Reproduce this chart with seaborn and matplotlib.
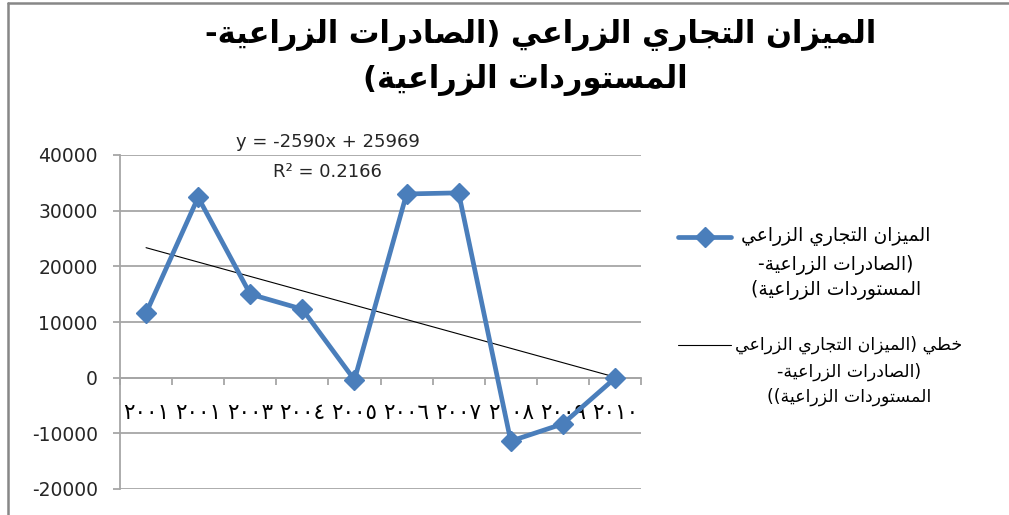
import numpy as np
import pandas as pd
import matplotlib
matplotlib.use("Agg")
import matplotlib.pyplot as plt
from matplotlib.lines import Line2D
import seaborn as sns

# ---------------- data ----------------
year_labels = ["٢٠٠١", "٢٠٠١", "٢٠٠٣", "٢٠٠٤", "٢٠٠٥", "٢٠٠٦", "٢٠٠٧", "٢٠٠٨", "٢٠٠٩", "٢٠١٠"]
balance = [11600, 32400, 15000, 12300, -400, 33000, 33200, -11400, -8300, -100]
title_lines = ["الميزان التجاري الزراعي (الصادرات الزراعية-", "المستوردات الزراعية)"]
series_label = ["الميزان التجاري الزراعي", "(الصادرات الزراعية-", "المستوردات الزراعية)"]
trend_label = ["خطي (الميزان التجاري الزراعي", "(الصادرات الزراعية-", "المستوردات الزراعية))"]
equation_text = "y = -2590x + 25969"
r2_text = "R² = 0.2166"
y_ticks = [-20000, -10000, 0, 10000, 20000, 30000, 40000]

# ------------- minimal Arabic shaping + RTL ordering -------------
FORMS = {
    'ا': (0xFE8D, 0xFE8E, None, None),
    'ة': (0xFE93, 0xFE94, None, None),
    'ت': (0xFE95, 0xFE96, 0xFE97, 0xFE98),
    'ج': (0xFE9D, 0xFE9E, 0xFE9F, 0xFEA0),
    'خ': (0xFEA5, 0xFEA6, 0xFEA7, 0xFEA8),
    'د': (0xFEA9, 0xFEAA, None, None),
    'ر': (0xFEAD, 0xFEAE, None, None),
    'ز': (0xFEAF, 0xFEB0, None, None),
    'س': (0xFEB1, 0xFEB2, 0xFEB3, 0xFEB4),
    'ص': (0xFEB9, 0xFEBA, 0xFEBB, 0xFEBC),
    'ط': (0xFEC1, 0xFEC2, 0xFEC3, 0xFEC4),
    'ع': (0xFEC9, 0xFECA, 0xFECB, 0xFECC),
    'ل': (0xFEDD, 0xFEDE, 0xFEDF, 0xFEE0),
    'م': (0xFEE1, 0xFEE2, 0xFEE3, 0xFEE4),
    'ن': (0xFEE5, 0xFEE6, 0xFEE7, 0xFEE8),
    'و': (0xFEED, 0xFEEE, None, None),
    'ي': (0xFEF1, 0xFEF2, 0xFEF3, 0xFEF4),
}


def shape_ar(text):
    ch = list(text)
    n = len(ch)
    out = []
    i = 0
    while i < n:
        c = ch[i]
        if c not in FORMS:
            out.append(c)
            i += 1
            continue
        prev_j = i > 0 and ch[i - 1] in FORMS and FORMS[ch[i - 1]][2] is not None
        if c == 'ل' and i + 1 < n and ch[i + 1] == 'ا':
            out.append(chr(0xFEFC if prev_j else 0xFEFB))
            i += 2
            continue
        iso, fin, ini, med = FORMS[c]
        next_j = ini is not None and i + 1 < n and ch[i + 1] in FORMS
        if prev_j and next_j:
            f = med
        elif prev_j:
            f = fin
        elif next_j:
            f = ini
        else:
            f = iso
        out.append(chr(f))
        i += 1
    vis = ''.join(reversed(out))
    vis = vis.replace('(', '\0').replace(')', '(').replace('\0', ')')
    return vis


# ---------------- figure ----------------
sns.set_style("white")
plt.rcParams['font.family'] = ['DejaVu Sans']

W, H = 1009, 515
fig = plt.figure(figsize=(W / 100, H / 100), dpi=100)


def fx(px):
    return px / W


def fy(py):
    return 1 - py / H


ax = fig.add_axes([fx(120), fy(489), fx(641) - fx(120), fy(155) - fy(489)])

blue = '#4A7EBB'
grid_c = '#A6A6A6'
txt_c = '#262626'

x_pos = np.arange(len(balance))
df = pd.DataFrame({'x': x_pos, 'y': balance})

sns.lineplot(data=df, x='x', y='y', ax=ax, color=blue, lw=3.4, marker='D',
             markersize=10, markeredgecolor=blue, markeredgewidth=1, zorder=4)
sns.regplot(data=df, x='x', y='y', ax=ax, scatter=False, ci=None, truncate=True,
            line_kws=dict(color='black', lw=0.8, zorder=3))

ax.set_xlim(-0.5, len(balance) - 0.5)
ax.set_ylim(y_ticks[0], y_ticks[-1])
ax.set_xlabel('')
ax.set_ylabel('')

ax.set_yticks(y_ticks)
ax.set_yticklabels([str(v) for v in y_ticks])
ax.yaxis.grid(True, color=grid_c, lw=1.3)
ax.xaxis.grid(False)

ax.set_xticks(x_pos)
ax.set_xticklabels(year_labels)
ax.set_xticks(np.arange(-0.5, len(balance)), minor=True)

for s in ['top', 'right']:
    ax.spines[s].set_visible(False)
ax.spines['left'].set_color(grid_c)
ax.spines['left'].set_linewidth(1.3)
ax.spines['bottom'].set_position(('data', 0))
ax.spines['bottom'].set_color(grid_c)
ax.spines['bottom'].set_linewidth(1.3)

ax.tick_params(axis='y', which='major', direction='out', length=5, width=1.3,
               color=grid_c, labelsize=13.5, labelcolor=txt_c, pad=11, left=True)
ax.tick_params(axis='x', which='major', length=0, labelsize=15.5, labelcolor='black', pad=18,
               bottom=True)
ax.tick_params(axis='x', which='minor', direction='out', length=5, width=1.3,
               color=grid_c, bottom=True)

# trendline label
ax.text(3.49, 42300, equation_text, ha='center', va='center', fontsize=13,
        color=txt_c, clip_on=False)
ax.text(3.49, 36950, r2_text, ha='center', va='center', fontsize=13,
        color=txt_c, clip_on=False)

# title
fig.text(fx(541), fy(35), shape_ar(title_lines[0]), ha='center', va='center',
         fontsize=22, weight='bold', color='black')
fig.text(fx(525), fy(80), shape_ar(title_lines[1]), ha='center', va='center',
         fontsize=22, weight='bold', color='black')

# legend
fig.add_artist(Line2D([fx(678), fx(731)], [fy(237), fy(237)], color=blue, lw=3.4))
fig.add_artist(Line2D([fx(704.5)], [fy(237)], color=blue, marker='D', markersize=10,
                      markeredgecolor=blue, markeredgewidth=1))
for yy, t in zip([237, 265, 290], series_label):
    fig.text(fx(836), fy(yy), shape_ar(t), ha='center', va='center', fontsize=13.5,
             color='black')
fig.add_artist(Line2D([fx(678), fx(731)], [fy(345), fy(345)], color='black', lw=0.8))
for yy, t in zip([345, 372, 397], trend_label):
    fig.text(fx(849), fy(yy), shape_ar(t), ha='center', va='center', fontsize=12.5,
             color='black')

# chart area border (top and left visible)
fig.add_artist(Line2D([fx(8), fx(1012)], [fy(3), fy(3)], color='#878787', lw=1.8))
fig.add_artist(Line2D([fx(8), fx(8)], [fy(3), fy(520)], color='#878787', lw=1.8))

fig.savefig('out.png', dpi=100)
